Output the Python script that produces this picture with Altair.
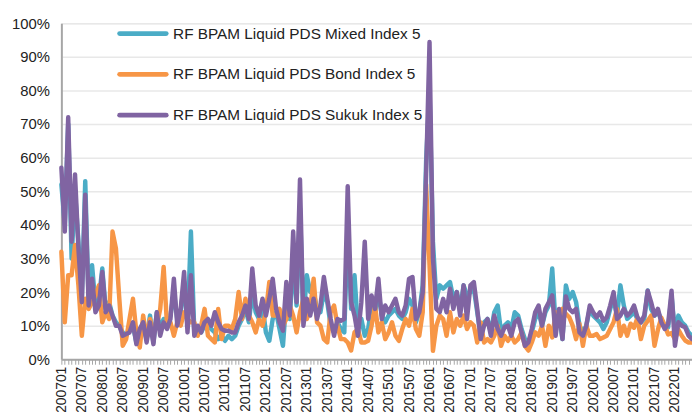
import altair as alt
import pandas as pd

months = [f"{y}{m:02d}" for y in range(2007, 2023) for m in range(1, 13)][:186]

names = [
    "RF BPAM Liquid PDS Mixed Index 5",
    "RF BPAM Liquid PDS Bond Index 5",
    "RF BPAM Liquid PDS Sukuk Index 5",
]
colors = ["#4BACC6", "#F79646", "#8064A2"]

mixed = [
    52, 40, 70, 30, 50, 35, 18, 53, 17, 28, 16, 18,
    27, 15, 17, 13, 11, 10, 8, 7, 9, 10, 5, 9,
    10, 6, 13, 5, 14, 9, 12, 10, 13, 20, 12, 14,
    23, 10, 38, 8, 9, 8, 10, 10, 9, 8, 6, 7,
    5.5, 7, 6, 7, 10, 12, 15, 11, 20, 14, 12, 16,
    8, 5.5, 12, 14, 9, 4, 18, 12, 30, 16, 45, 12,
    25, 20, 20, 15, 14, 20, 17, 10, 8, 11, 9, 8,
    40, 15, 25, 9, 12, 7, 9, 16, 14, 20, 13, 11,
    13, 14, 15, 13, 12, 14, 18, 16, 11, 14, 22, 59,
    80, 35, 18, 22, 21, 22, 23, 18, 20, 15, 22, 19,
    20, 21, 14, 7, 11, 12, 8, 14, 16, 8, 10, 11,
    9, 14, 13, 9, 6, 5, 8, 12, 14, 10, 14, 16,
    27, 10, 13, 6, 22, 18, 20, 17, 10, 8, 10, 15,
    13, 12, 11, 9, 11, 15, 18, 13, 22, 16, 12, 13,
    14, 12, 11, 12, 20.5, 15, 13, 14, 12, 10, 9.5, 19,
    8, 13, 11, 10, 8, 7,
]

bond = [
    32, 11, 25, 25, 34, 22, 7, 18, 15, 17, 19, 22,
    11, 14, 12, 38, 33, 18, 4, 6, 12, 18, 8, 3.5,
    13, 6, 12, 8, 10, 15, 27.5, 10, 11, 7, 11, 10,
    14, 12, 11, 11, 7, 10, 15, 7, 6, 5, 15, 6,
    10, 10, 9, 12, 20, 12, 18, 13, 11, 8, 12, 10,
    14, 23, 13, 13, 15, 10, 12, 16, 13, 8, 14, 18,
    12, 15, 24, 11, 10, 6, 5, 14, 16, 10, 6, 6,
    5, 2.6, 8, 9, 5, 5, 5.5, 10, 16, 8, 11, 6,
    8, 11, 7, 5.5, 9, 12, 10, 15, 9, 7, 14, 52,
    28, 2.5, 10, 13, 12, 7, 14, 8, 12, 10, 13, 9,
    11, 10, 5, 11, 5, 6, 5, 7, 10, 4, 7, 5.5,
    7, 5, 6, 8, 4, 2.6, 5, 8, 7, 10, 4, 10,
    6.5, 14, 10, 15, 13.5, 12.5, 10, 6, 10.5, 4, 10, 7,
    7, 7.5, 6, 6.5, 7, 9, 11, 15, 7, 10, 7, 10.6,
    9.4, 12.4, 6, 10, 11.4, 13, 4, 8.8, 12.4, 10, 7.4, 7.8,
    6, 8.8, 7, 5.6, 5, 5,
]

sukuk = [
    57, 38, 72, 35, 55, 33, 17, 49, 16, 24, 14, 16,
    26, 14, 16, 13, 10, 10, 7, 7.5, 8, 11, 4.5, 9,
    11, 5, 11, 4.5, 14, 7, 11, 9, 12, 24, 10, 15,
    26, 8, 25, 7, 10, 8, 11, 12, 10, 14, 11, 9,
    8.5, 8.5, 8, 8, 11, 13, 16, 12, 27, 16, 13, 18,
    13, 18, 24, 15, 11, 8.5, 23, 13, 38, 17, 53.5, 10,
    18, 13, 18, 12, 16, 24.5, 18, 12, 7, 12, 11.5, 12,
    51.5, 17, 13, 7, 17, 35, 12, 19, 15, 24, 12, 16,
    14, 16, 18, 14, 13, 16, 24, 24.5, 12, 14, 20, 55,
    94.4, 30, 15, 14, 18, 14, 21, 15, 20, 13, 22, 12,
    22, 23, 15, 6, 10, 12, 7, 13, 9, 7, 9.5, 10,
    7, 11, 12, 8, 4, 5, 9, 14, 16, 10, 15, 17,
    19, 7, 15, 6, 18.7, 15, 14, 15, 8, 7, 10, 16,
    14, 12.5, 14, 11.5, 12.5, 16, 20, 12, 13, 15, 13, 14,
    16, 12.5, 11, 13, 20.4, 17, 13, 15, 11, 9, 10.5, 20.4,
    4, 11, 10, 9.5, 7, 6,
]

rows = []
for name, vals in zip(names, [mixed, bond, sukuk]):
    for m, v in zip(months, vals):
        rows.append({"month": m, "series": name, "value": v / 100})
df = pd.DataFrame(rows)

label_expr = (
    "(substring(datum.value,4,6)=='01'||substring(datum.value,4,6)=='07')"
    "?datum.value:''"
)

x_enc = alt.X(
    "month:O",
    sort=months,
    scale=alt.Scale(type="point", padding=0),
    axis=alt.Axis(
        title=None,
        labelExpr=label_expr,
        labelAngle=270,
        labelAlign="right",
        labelBaseline="middle",
        labelOverlap=False,
        labelFontSize=14,
        labelColor="#222222",
        ticks=True,
        tickSize=5,
        tickColor="#A6A6A6",
        tickWidth=1,
        domainColor="#A6A6A6",
        domainWidth=2,
        labelPadding=2,
        grid=False,
    ),
)

y_enc = alt.Y(
    "value:Q",
    scale=alt.Scale(domain=[0, 1]),
    axis=alt.Axis(
        title=None,
        format=".0%",
        values=[i / 10 for i in range(11)],
        ticks=False,
        labelPadding=12,
        labelFontSize=15,
        labelColor="#222222",
        gridColor="#E8E8E8",
        gridWidth=1.5,
        domainColor="#A6A6A6",
        domainWidth=2,
    ),
)

line_layers = []
for name, col in zip(names, colors):
    line_layers.append(
        alt.Chart(df)
        .transform_filter(alt.datum.series == name)
        .mark_line(color=col, strokeWidth=4.5, strokeJoin="round", strokeCap="round")
        .encode(x=x_enc, y=y_enc)
    )
lines = alt.layer(*line_layers)

leg_df = pd.DataFrame({"series": names, "color": colors})
leg_y = alt.Y(
    "series:N",
    sort=names,
    scale=alt.Scale(type="point", domain=names, range=[10.5, 93], padding=0),
    axis=None,
)
leg_rules = alt.Chart(leg_df).mark_rule(strokeWidth=5, strokeCap="round").encode(
    x=alt.value(59),
    x2=alt.value(106),
    y=leg_y,
    color=alt.Color("color:N", scale=None, legend=None),
)
leg_text = alt.Chart(leg_df).mark_text(
    align="left", baseline="middle", fontSize=15.5, color="#222222", font="Liberation Sans"
).encode(x=alt.value(113), y=leg_y, text="series:N")
legend = alt.layer(leg_rules, leg_text)

chart = (
    alt.layer(lines, legend)
    .resolve_scale(y="independent")
    .properties(
        width=638,
        height=340,
        autosize=alt.AutoSizeParams(type="none"),
        padding={"left": 54, "top": 13, "right": 0, "bottom": 57},
    )
    .configure_view(stroke=None)
    .configure(font="Liberation Sans")
)

chart.save("out.html", embed_options={"renderer": "svg", "actions": False})
